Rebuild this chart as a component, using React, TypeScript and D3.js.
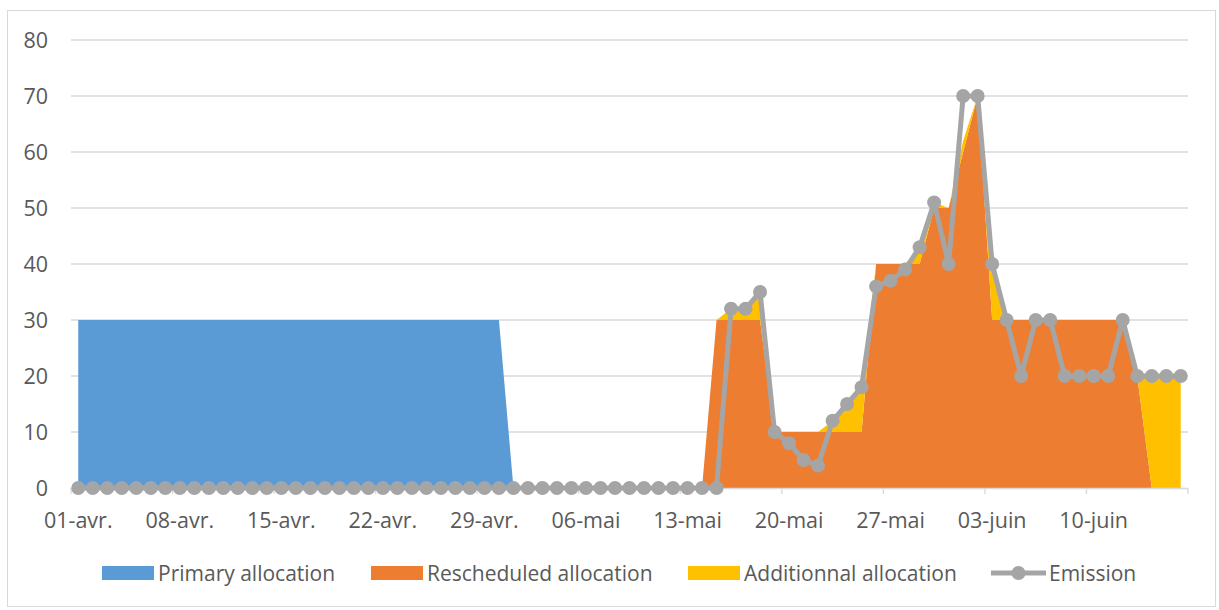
import React, { useEffect, useRef } from "react";
import * as d3 from "d3";

// one value per day, 01-avr. -> 16-juin (rows = weeks)
const primary = [
  30, 30, 30, 30, 30, 30, 30,
  30, 30, 30, 30, 30, 30, 30,
  30, 30, 30, 30, 30, 30, 30,
  30, 30, 30, 30, 30, 30, 30,
  30, 30, 0, 0, 0, 0, 0,
  0, 0, 0, 0, 0, 0, 0,
  0, 0, 0, 0, 0, 0, 0,
  0, 0, 0, 0, 0, 0, 0,
  0, 0, 0, 0, 0, 0, 0,
  0, 0, 0, 0, 0, 0, 0,
  0, 0, 0, 0, 0, 0, 0,
];

const rescheduled = [
  0, 0, 0, 0, 0, 0, 0,
  0, 0, 0, 0, 0, 0, 0,
  0, 0, 0, 0, 0, 0, 0,
  0, 0, 0, 0, 0, 0, 0,
  0, 0, 0, 0, 0, 0, 0,
  0, 0, 0, 0, 0, 0, 0,
  0, 0, 30, 30, 30, 30, 10,
  10, 10, 10, 10, 10, 10, 40,
  40, 40, 40, 50, 50, 60, 70,
  30, 30, 30, 30, 30, 30, 30,
  30, 30, 30, 20, 0, 0, 0,
];

const additional = [
  0, 0, 0, 0, 0, 0, 0,
  0, 0, 0, 0, 0, 0, 0,
  0, 0, 0, 0, 0, 0, 0,
  0, 0, 0, 0, 0, 0, 0,
  0, 0, 0, 0, 0, 0, 0,
  0, 0, 0, 0, 0, 0, 0,
  0, 0, 0, 2, 2, 5, 0,
  0, 0, 0, 2, 5, 8, 0,
  0, 0, 3, 1, 0, 2, 0,
  10, 0, 0, 0, 0, 0, 0,
  0, 0, 0, 0, 20, 20, 20,
];

const emission = [
  0, 0, 0, 0, 0, 0, 0,
  0, 0, 0, 0, 0, 0, 0,
  0, 0, 0, 0, 0, 0, 0,
  0, 0, 0, 0, 0, 0, 0,
  0, 0, 0, 0, 0, 0, 0,
  0, 0, 0, 0, 0, 0, 0,
  0, 0, 0, 32, 32, 35, 10,
  8, 5, 4, 12, 15, 18, 36,
  37, 39, 43, 51, 40, 70, 70,
  40, 30, 20, 30, 30, 20, 20,
  20, 20, 30, 20, 20, 20, 20,
];

const tickLabels = [
  "01-avr.", "08-avr.", "15-avr.", "22-avr.", "29-avr.", "06-mai",
  "13-mai", "20-mai", "27-mai", "03-juin", "10-juin",
];

const yTicks = [0, 10, 20, 30, 40, 50, 60, 70, 80];

const seriesNames = ["Primary allocation", "Rescheduled allocation", "Additionnal allocation"];
const colors = ["#5b9bd5", "#ed7d31", "#ffc000"];
const lineColor = "#a5a5a5";

const W = 1219;
const H = 610;
const font = "'Open Sans', sans-serif";

const App = () => {
  const svgRef = useRef(null);

  useEffect(() => {
    const svg = d3.select(svgRef.current);
    svg.selectAll("*").remove();

    const left = 71;
    const right = 1188;
    const top = 40;
    const bottom = 488;

    const days = d3.range(emission.length);
    const x = d3.scaleBand().domain(days).range([left, right]).padding(0);
    const cx = (i) => x(i) + x.bandwidth() / 2;
    const y = d3.scaleLinear().domain([0, 80]).range([bottom, top]);

    // outer frame
    svg
      .append("rect")
      .attr("x", 7.5)
      .attr("y", 10.5)
      .attr("width", 1208)
      .attr("height", 596)
      .attr("fill", "white")
      .attr("stroke", "#d9d9d9");

    // grid
    svg
      .append("g")
      .selectAll("line")
      .data(yTicks.filter((t) => t > 0))
      .join("line")
      .attr("x1", left)
      .attr("x2", right)
      .attr("y1", (d) => y(d))
      .attr("y2", (d) => y(d))
      .attr("stroke", "#d9d9d9")
      .attr("stroke-width", 1.3);

    // y labels
    svg
      .append("g")
      .selectAll("text")
      .data(yTicks)
      .join("text")
      .attr("x", 48)
      .attr("y", (d) => y(d))
      .attr("dy", "0.36em")
      .attr("text-anchor", "end")
      .attr("font-family", font)
      .attr("font-size", 21.5)
      .attr("fill", "#595959")
      .text((d) => d);

    // stacked areas
    const table = days.map((i) => ({
      i,
      p: primary[i],
      r: rescheduled[i],
      a: additional[i],
    }));
    const stacked = d3.stack().keys(["p", "r", "a"])(table);
    const area = d3
      .area()
      .x((d) => cx(d.data.i))
      .y0((d) => y(d[0]))
      .y1((d) => y(d[1]));

    svg
      .append("g")
      .selectAll("path")
      .data(stacked)
      .join("path")
      .attr("d", (d) => area(d))
      .attr("fill", (d, k) => colors[k]);

    // x axis line + ticks
    svg
      .append("line")
      .attr("x1", left)
      .attr("x2", right)
      .attr("y1", bottom + 0.5)
      .attr("y2", bottom + 0.5)
      .attr("stroke", "#d9d9d9")
      .attr("stroke-width", 1.3);

    const tickIdx = d3.range(0, emission.length + 1, 7);
    svg
      .append("g")
      .selectAll("line")
      .data(tickIdx)
      .join("line")
      .attr("x1", (d) => left + d * x.step())
      .attr("x2", (d) => left + d * x.step())
      .attr("y1", bottom)
      .attr("y2", bottom + 6)
      .attr("stroke", "#d9d9d9")
      .attr("stroke-width", 1.3);

    svg
      .append("g")
      .selectAll("text")
      .data(tickLabels)
      .join("text")
      .attr("x", (d, k) => cx(k * 7))
      .attr("y", 528)
      .attr("text-anchor", "middle")
      .attr("font-family", font)
      .attr("font-size", 21.5)
      .attr("fill", "#595959")
      .text((d) => d);

    // emission line
    const line = d3
      .line()
      .x((d, i) => cx(i))
      .y((d) => y(d));

    svg
      .append("path")
      .attr("d", line(emission))
      .attr("fill", "none")
      .attr("stroke", lineColor)
      .attr("stroke-width", 5)
      .attr("stroke-linejoin", "round");

    svg
      .append("g")
      .selectAll("circle")
      .data(emission)
      .join("circle")
      .attr("cx", (d, i) => cx(i))
      .attr("cy", (d) => y(d))
      .attr("r", 7)
      .attr("fill", lineColor);

    // legend
    const legendY = 573;
    const swatchX = [102, 371, 688];
    const legend = svg.append("g");
    seriesNames.forEach((name, k) => {
      legend
        .append("rect")
        .attr("x", swatchX[k])
        .attr("y", legendY - 7)
        .attr("width", 52)
        .attr("height", 14)
        .attr("fill", colors[k]);
      legend
        .append("text")
        .attr("x", swatchX[k] + 56)
        .attr("y", legendY)
        .attr("dy", "0.36em")
        .attr("font-family", font)
        .attr("font-size", 21)
        .attr("fill", "#595959")
        .text(name);
    });
    legend
      .append("line")
      .attr("x1", 991)
      .attr("x2", 1046)
      .attr("y1", legendY)
      .attr("y2", legendY)
      .attr("stroke", lineColor)
      .attr("stroke-width", 5);
    legend
      .append("circle")
      .attr("cx", 1018.5)
      .attr("cy", legendY)
      .attr("r", 7)
      .attr("fill", lineColor);
    legend
      .append("text")
      .attr("x", 1049)
      .attr("y", legendY)
      .attr("dy", "0.36em")
      .attr("font-family", font)
      .attr("font-size", 21)
      .attr("fill", "#595959")
      .text("Emission");
  }, []);

  return (
    <svg
      ref={svgRef}
      width={W}
      height={H}
      style={{ position: "absolute", left: 0, top: 0, background: "white" }}
    />
  );
};

export default App;
